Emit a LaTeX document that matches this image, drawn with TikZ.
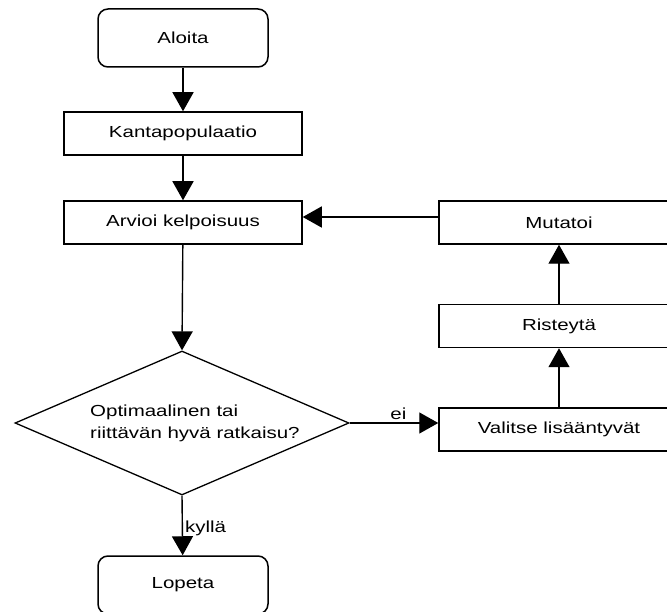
\documentclass[tikz,border=0pt]{standalone}
\usepackage{fontspec}
\setmainfont{Liberation Sans}[FakeStretch=1.28]
\usetikzlibrary{shapes.geometric,arrows.meta}
\begin{document}
\begin{tikzpicture}[x=1pt,y=-1pt,
  font=\fontsize{16}{22}\selectfont,
  every node/.style={inner sep=0pt},
  termbox/.style={draw,line width=1.5pt,rounded corners=10pt,minimum width=170pt,minimum height=58pt},
  stepbox/.style={draw,line width=1.5pt,minimum width=238pt,minimum height=43pt},
  sidebox/.style={draw,line width=1.5pt,minimum width=240pt,minimum height=43pt},
  decbox/.style={draw,line width=1.3pt,diamond,aspect=2.32,minimum width=334pt,minimum height=144pt},
  arr/.style={line width=1.4pt,-{Triangle[length=19pt,width=21pt]}},
  lab/.style={inner sep=0pt}]
\useasboundingbox[fill=white] (0,0) rectangle (667,612);
\node[termbox] (aloita) at (183,38) {Aloita};
\node[stepbox] (kanta) at (183,133.5) {Kantapopulaatio};
\node[stepbox] (arvioi) at (183,222.5) {Arvioi kelpoisuus};
\node[decbox] (dec) at (182,423) {};
\node[lab,anchor=west,align=left] (dtext) at (90,423) {Optimaalinen tai\\riittävän hyvä ratkaisu?};
\node[termbox] (lopeta) at (183,585) {Lopeta};
\node[sidebox] (mutatoi) at (559,222.5) {Mutatoi};
\node[sidebox] (riste) at (559,326) {Risteytä};
\node[sidebox] (valitse) at (559,429.5) {Valitse lisääntyvät};
\draw[arr] (aloita) -- (kanta);
\draw[arr] (kanta) -- (arvioi);
\draw[arr] (arvioi) -- (dec.north);
\draw[arr] (dec.south) -- (lopeta) node[lab,pos=0.55,anchor=west,xshift=2pt] (kylla) {kyllä};
\draw[arr] (dec.east) -- (valitse.west |- dec.east) node[lab,pos=0.55,anchor=south,yshift=3pt] (ei) {ei};
\draw[arr] (valitse) -- (riste);
\draw[arr] (riste) -- (mutatoi);
\draw[arr] ([yshift=5.5pt]mutatoi.west) -- ([yshift=5.5pt]arvioi.east);
\end{tikzpicture}
\end{document}
